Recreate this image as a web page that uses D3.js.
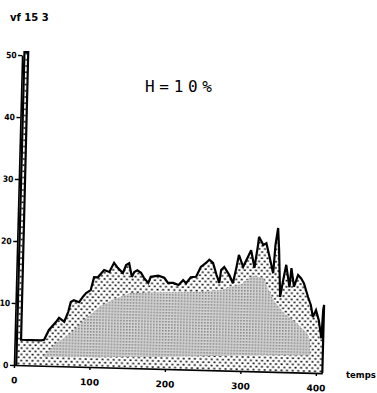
<!DOCTYPE html>
<html>
<head>
<meta charset="utf-8">
<script src="https://cdn.jsdelivr.net/npm/d3@7"></script>
<style>
  body { margin: 0; background: #fff; }
  svg { display: block; }
</style>
</head>
<body>
<svg id="chart" width="377" height="393"></svg>
<script>
// Axis ticks
const yTicks = [0, 10, 20, 30, 40, 50];
const xTicks = [0, 100, 200, 300, 400];

// Recorded signal (upper envelope) against time
const upperT = [3, 3, 8, 8.5, 35, 39, 45, 54, 58, 65, 70, 73, 77, 84, 89, 93, 99, 103, 108, 116,
  123, 129, 134, 141, 145, 149, 153, 156, 160, 165, 169, 175, 178, 188, 196, 201, 208, 215, 221, 225,
  231, 238, 244, 251, 255, 260, 265, 269, 271, 275, 282, 287, 291, 294, 300, 306, 310, 315, 319, 320,
  326, 330, 334, 340, 342, 345, 347, 350, 354, 357, 362, 364, 368, 373, 377, 381, 387, 391, 394, 398,
  402, 406, 407.5, 408.5, 408.5];
const upperV = [0, 50.5, 50.5, 4.1, 4.1, 4.2, 5.8, 7.1, 7.8, 7.2, 8.8, 10.4, 10.7, 10.4, 11.3, 11.9, 12.4, 14.5, 14.5, 15.7,
  15.4, 16.9, 16.1, 15.3, 16.6, 16.9, 14.7, 15.5, 15.8, 15.4, 14.6, 13.8, 14.8, 15.0, 14.7, 13.9, 13.9, 13.6, 14.4, 13.9,
  14.9, 15.0, 16.6, 17.3, 17.8, 17.3, 15.4, 14.1, 16.2, 16.7, 15.4, 14.1, 16.6, 18.7, 16.8, 18.4, 19.5, 16.7, 20.4, 21.7,
  20.4, 20.7, 18.8, 15.9, 20.4, 23.2, 19.7, 12.1, 15.2, 17.3, 13.7, 16.8, 13.8, 15.7, 15.2, 14.4, 12.2, 10.9, 9.0, 10.1,
  8.5, 5.6, 10.2, 11.0, 0];

// Inner (smoothed) band
const bandT      = [38, 55, 74, 94, 113, 133, 152, 192, 245, 272, 298, 313, 327, 341, 356, 372, 387, 391, 392];
const bandTop    = [1.4, 3.7, 5.4, 7.9, 9.9, 11.2, 12.1, 12.4, 12.6, 13.0, 14.0, 15.4, 15.1, 11.6, 9.5, 8.0, 6.4, 5.3, 2.8];
const bandBottom = [1.4, 1.5, 1.5, 1.6, 1.6, 1.7, 1.8, 1.9, 2.2, 2.3, 2.5, 2.5, 2.6, 2.6, 2.7, 2.7, 2.8, 2.8, 2.8];

const upper = upperT.map((t, i) => ({ t, v: upperV[i] }));
const band = bandT.map((t, i) => ({ t, top: bandTop[i], bottom: bandBottom[i] }));

const svg = d3.select("#chart");
const defs = svg.append("defs");

// Sparse black dot screen
const dots = defs.append("pattern")
  .attr("id", "dots").attr("patternUnits", "userSpaceOnUse")
  .attr("width", 5.6).attr("height", 6.2);
dots.append("rect").attr("width", 5.6).attr("height", 6.2).attr("fill", "#fff");
dots.append("rect").attr("x", 0.5).attr("y", 0.7).attr("width", 2).attr("height", 1.6).attr("fill", "#111");
dots.append("rect").attr("x", 3.3).attr("y", 3.8).attr("width", 2).attr("height", 1.6).attr("fill", "#111");

// Fine grey screen
const grey = defs.append("pattern")
  .attr("id", "grey").attr("patternUnits", "userSpaceOnUse")
  .attr("width", 3).attr("height", 3);
grey.append("rect").attr("width", 3).attr("height", 3).attr("fill", "#d4d4d4");
grey.append("rect").attr("width", 1.6).attr("height", 1.6).attr("fill", "#888");

// Plot frame, slightly tilted
const originX = 14, originY = 365;
const g = svg.append("g")
  .attr("transform", `translate(${originX},${originY}) rotate(1.5)`);

const x = d3.scaleLinear().domain([0, 408.5]).range([0, 408.5 * 0.755]);
const y = d3.scaleLinear().domain([0, 50]).range([0, -310]);

// Dotted area under the signal
g.append("path").datum(upper)
  .attr("fill", "url(#dots)")
  .attr("d", d3.area().x(d => x(d.t)).y0(y(0)).y1(d => y(d.v)));

// Grey band
g.append("path").datum(band)
  .attr("fill", "url(#grey)")
  .attr("d", d3.area().x(d => x(d.t)).y0(d => y(d.bottom)).y1(d => y(d.top)));

// Signal outline
g.append("path").datum(upper)
  .attr("fill", "none").attr("stroke", "#000").attr("stroke-width", 2.2)
  .attr("stroke-linejoin", "miter").attr("stroke-miterlimit", 3)
  .attr("d", d3.line().x(d => x(d.t)).y(d => y(d.v)));

// Axes
const xAxis = g.append("g")
  .call(d3.axisBottom(x).tickValues(xTicks).tickSize(3).tickSizeOuter(0).tickPadding(9));
const yAxis = g.append("g")
  .call(d3.axisLeft(y).tickValues(yTicks).tickSize(4).tickSizeOuter(0).tickPadding(1.5));

[xAxis, yAxis].forEach(a => {
  a.select(".domain").attr("stroke", "#000").attr("stroke-width", 1.6);
  a.selectAll(".tick line").attr("stroke", "#000").attr("stroke-width", 1.4);
  a.selectAll("text")
    .attr("fill", "#000")
    .style("font-family", "'DejaVu Sans', sans-serif")
    .style("font-weight", "bold")
    .style("font-size", "9px");
});
yAxis.selectAll("text")
  .style("font-family", "'DejaVu Sans Condensed', 'DejaVu Sans', sans-serif")
  .style("font-size", "8.5px");

// Titles
svg.append("text")
  .attr("x", 10).attr("y", 21)
  .style("font-family", "'DejaVu Sans', sans-serif")
  .style("font-weight", "bold").style("font-size", "10px")
  .text("vf 15 3");

svg.append("text")
  .attr("x", 145).attr("y", 92)
  .attr("textLength", 67).attr("lengthAdjust", "spacing")
  .style("font-family", "'DejaVu Sans Mono', monospace")
  .style("font-size", "16px")
  .text("H=10%");

svg.append("text")
  .attr("x", 346).attr("y", 378)
  .style("font-family", "'DejaVu Sans', sans-serif")
  .style("font-weight", "bold").style("font-size", "8.5px")
  .text("temps");
</script>
</body>
</html>
